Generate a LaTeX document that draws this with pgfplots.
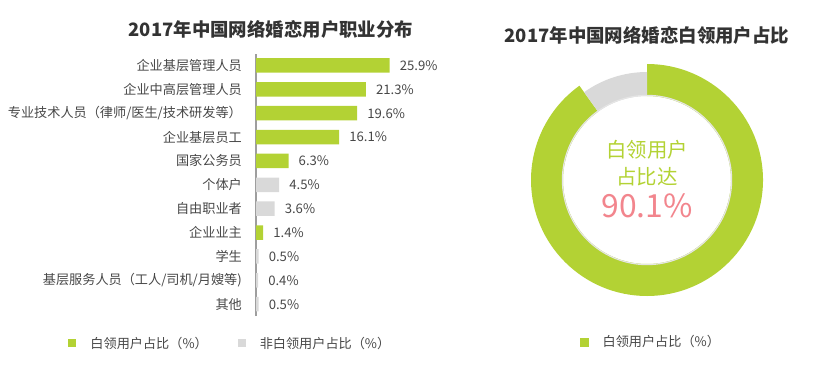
\documentclass[border=0pt]{standalone}
\usepackage{fontspec}
\setmainfont{Noto Sans CJK SC}
\usepackage{pgfplots}
\pgfplotsset{compat=1.18}
\definecolor{wgreen}{HTML}{B3D234}
\definecolor{ngray}{HTML}{D9D9D9}
\definecolor{txt}{HTML}{474747}
\definecolor{ttl}{HTML}{333333}
\definecolor{pinkc}{HTML}{F2858D}
\begin{document}
\begin{tikzpicture}[x=1bp,y=1bp]
\path (0,0) rectangle (817,378);
\node[font=\fontsize{18.5}{20}\selectfont\bfseries, text=ttl] at (271,349) {2017年中国网络婚恋用户职业分布};
\node[font=\fontsize{18.5}{20}\selectfont\bfseries, text=ttl] at (647,343) {2017年中国网络婚恋白领用户占比};

\begin{axis}[
  at={(333.4bp,193.15bp)}, anchor=center,
  width=154.8bp, height=262.6bp, scale only axis,
  xmin=0, xmax=30, ymin=-0.5, ymax=10.5,
  xbar, bar width=14.5bp, bar shift=0pt,
  axis lines=left, axis line style={-, draw=black!38, line width=1.6bp},
  x axis line style={draw=none},
  xtick=\empty,
  ytick={0,...,10},
  yticklabels={其他, 基层服务人员（工人/司机/月嫂等), 学生, 企业业主, 自由职业者, 个体户, 国家公务员, 企业基层员工, 专业技术人员（律师/医生/技术研发等）, 企业中高层管理人员, 企业基层管理人员},
  major tick length=0pt,
  yticklabel style={font=\fontsize{13.2}{15}\selectfont, text=txt, inner sep=0pt, xshift=-14bp},
  /pgf/number format/assume math mode=true,
  nodes near coords={\pgfmathprintnumber[fixed,fixed zerofill,precision=1]{\pgfplotspointmeta}\%},
  nodes near coords style={font=\fontsize{13.2}{15}\selectfont, text=txt, anchor=west, inner sep=0pt, xshift=10bp},
  legend style={at={(axis description cs:-1.2127,-0.104)}, anchor=west, draw=none, fill=none, inner sep=0pt,
    font=\fontsize{13.2}{15}\selectfont, text=txt, legend columns=2,
    /tikz/every odd column/.append style={column sep=14bp},
    /tikz/every even column/.append style={column sep=30bp},
    nodes={inner sep=0pt}},
  clip=false,
]
\addplot[fill=wgreen, draw=none, legend image code/.code={\fill[wgreen] (0bp,-4bp) rectangle (8bp,4bp);}]
  coordinates {(25.9,10) (21.3,9) (19.6,8) (16.1,7) (6.3,6) (1.4,3)};
\addplot[fill=ngray, draw=none, legend image code/.code={\fill[ngray] (0bp,-4bp) rectangle (8bp,4bp);}]
  coordinates {(4.5,5) (3.6,4) (0.5,2) (0.4,1) (0.5,0)};
\legend{白领用户占比（\%）, 非白领用户占比（\%）}
\end{axis}

\def\whiteshare{90.1}
\pgfmathsetmacro\eang{90-3.6*\whiteshare}
\begin{axis}[
  at={(647bp,198bp)}, anchor=center,
  width=240bp, height=240bp, scale only axis, hide axis,
  xmin=-120, xmax=120, ymin=-120, ymax=120, clip=false,
  legend style={at={(axis description cs:0.2208,-0.175)}, anchor=west, draw=none, fill=none, inner sep=0pt,
    font=\fontsize{13.2}{15}\selectfont, text=txt,
    /tikz/every odd column/.append style={column sep=14bp},
    nodes={inner sep=0pt}},
]
\addlegendimage{legend image code/.code={\fill[wgreen] (0bp,-4bp) rectangle (8bp,4bp);}}
\addlegendentry{白领用户占比（\%）}
\fill[wgreen] (axis cs:0,0) ++(90:116bp) arc[start angle=90,end angle=\eang,radius=116bp]
  -- ++(\eang+180:32bp) arc[start angle=\eang,end angle=90,radius=84bp] -- cycle;
\fill[ngray] (axis cs:0,0) ++(\eang:108bp) arc[start angle=\eang,end angle=-270,radius=108bp]
  -- ++(-90:24bp) arc[start angle=-270,end angle=\eang,radius=84bp] -- cycle;
\draw[black!10, line width=1.2bp] (axis cs:0,0) circle[radius=84.6bp];
\node[font=\fontsize{20.5}{22}\selectfont, text=wgreen] at (axis cs:0,30) {白领用户};
\node[font=\fontsize{20.5}{22}\selectfont, text=wgreen] at (axis cs:0,3) {占比达};
\node[font=\fontsize{32}{34}\selectfont, text=pinkc] at (axis cs:0,-26) {90.1\%};
\end{axis}
\end{tikzpicture}
\end{document}
